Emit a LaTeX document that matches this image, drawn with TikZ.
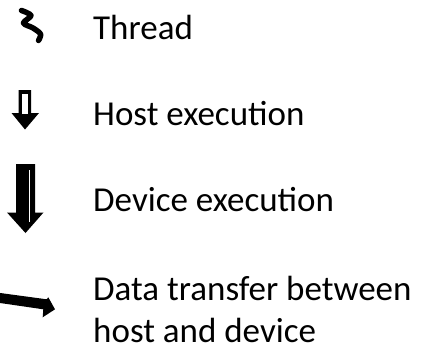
\documentclass[tikz,border=0pt]{standalone}
\usepackage{fontspec}
\setmainfont{Carlito}
\begin{document}
\begin{tikzpicture}[x=1pt,y=-1pt,
  label/.style={anchor=base west,inner sep=0pt,font=\fontsize{35}{42}\selectfont,align=left},
  blk/.style={fill=black}]
\useasboundingbox (0,0) rectangle (438,345);
% thread squiggle
\draw[line width=5.5pt,line cap=round,line join=round]
  plot[smooth,tension=0.55] coordinates {(21.5,10.5) (31,15.5) (23.5,23) (33,28) (40.5,34) (38.5,40.5)};
\node[label] (thread) at (93,39) {Thread};
% host execution arrow
\fill[blk] (18.5,90) -- (31,90) -- (31,113) -- (39,113) -- (25,129.5) -- (11.5,113) -- (18.5,113) -- cycle;
\fill[white] (22,93.5) rectangle (27.5,113.5);
\node[label] (host) at (93,125) {Host execution};
% device execution arrow
\fill[blk] (16,164) -- (35,164) -- (35,212.5) -- (43.5,212.5) -- (25.5,233) -- (7,212.5) -- (16,212.5) -- cycle;
\fill[white] (28.5,170) rectangle (30,222);
\node[label] (device) at (93,211) {Device execution};
% data transfer arrow
\coordinate (dstart) at (-2,297.7);
\fill[blk] (-2,292.7) -- (46.7,299.3) -- (48.3,297.3) -- (55,309.3) -- (42.7,317.3) -- (43.3,309.3) -- (-2,302.7) -- cycle;
\node[label] (data) at (93,342) {Data transfer between\\host and device};
\end{tikzpicture}
\end{document}
